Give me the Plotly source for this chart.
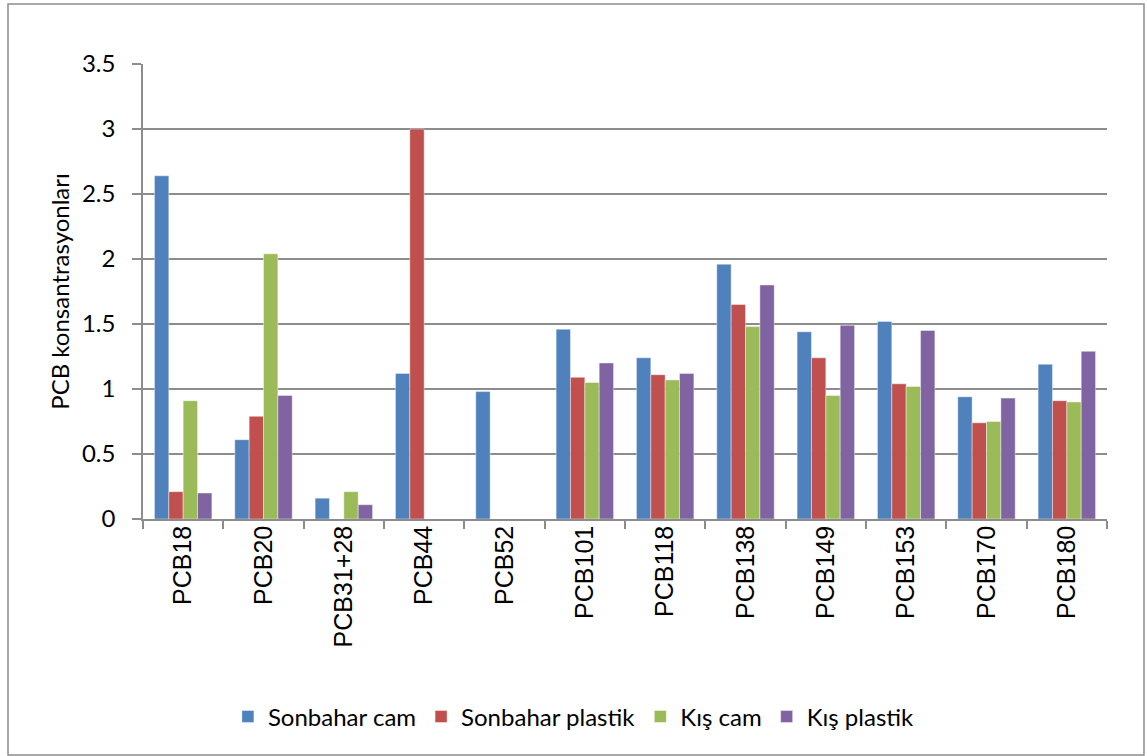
import plotly.graph_objects as go

# PCB congeners and measured concentrations per season / container type
categories = ["PCB18", "PCB20", "PCB31+28", "PCB44", "PCB52", "PCB101",
              "PCB118", "PCB138", "PCB149", "PCB153", "PCB170", "PCB180"]

sonbahar_cam = [2.64, 0.61, 0.16, 1.12, 0.98, 1.46, 1.24, 1.96, 1.44, 1.52, 0.94, 1.19]
sonbahar_plastik = [0.21, 0.79, 0, 3.00, 0, 1.09, 1.11, 1.65, 1.24, 1.04, 0.74, 0.91]
kis_cam = [0.91, 2.04, 0.21, 0, 0, 1.05, 1.07, 1.48, 0.95, 1.02, 0.75, 0.90]
kis_plastik = [0.20, 0.95, 0.11, 0, 0, 1.20, 1.12, 1.80, 1.49, 1.45, 0.93, 1.29]

series = [
    ("Sonbahar cam", sonbahar_cam, "#4F81BD"),
    ("Sonbahar plastik", sonbahar_plastik, "#C0504D"),
    ("Kış cam", kis_cam, "#9BBB59"),
    ("Kış plastik", kis_plastik, "#8064A2"),
]

fig = go.Figure()
for name, vals, color in series:
    fig.add_trace(go.Bar(
        name=name, x=categories, y=vals,
        marker=dict(color=color, line=dict(color="rgba(255,255,255,0.7)", width=0.6)),
    ))

grid = "#8c8c8c"
fig.update_layout(
    width=1147, height=756,
    margin=dict(l=143, r=40, t=64, b=237),
    paper_bgcolor="white", plot_bgcolor="white",
    barmode="group", bargap=0.285, bargroupgap=0,
    font=dict(family="Lato, Liberation Sans, sans-serif", color="black"),
    showlegend=True,
    legend=dict(
        orientation="h", x=0.447, xanchor="center", y=-0.435, yanchor="middle",
        font=dict(size=24, family="Lato, sans-serif"),
        itemwidth=30, traceorder="normal",
    ),
    xaxis=dict(
        type="category", tickson="boundaries", ticks="outside", ticklen=8,
        tickcolor=grid, tickwidth=1.5, showline=True, linecolor=grid, linewidth=1.5,
        showgrid=False, tickangle=-90,
        tickfont=dict(size=25, family="Liberation Sans, Arial, sans-serif"),
        ticklabelstandoff=-5,
    ),
    yaxis=dict(
        range=[0, 3.5], dtick=0.5,
        ticks="outside", ticklen=9, tickcolor=grid, tickwidth=1.5,
        showline=True, linecolor=grid, linewidth=1.5,
        showgrid=True, gridcolor=grid, gridwidth=1.5, zeroline=False,
        tickfont=dict(size=24, family="Lato, sans-serif"),
        ticklabelstandoff=12,
        title=dict(text="PCB konsantrasyonları", font=dict(size=24, family="Lato, sans-serif"),
                   standoff=6),
    ),
    shapes=[dict(
        type="rect", xref="paper", yref="paper",
        x0=(8 - 143) / 964, x1=(1144 - 143) / 964,
        y0=(519 - 755) / 455, y1=(519 - 4) / 455,
        line=dict(color="#8c8c8c", width=1.5), fillcolor="rgba(0,0,0,0)", layer="below",
    )],
)

fig.write_html("out.html")
